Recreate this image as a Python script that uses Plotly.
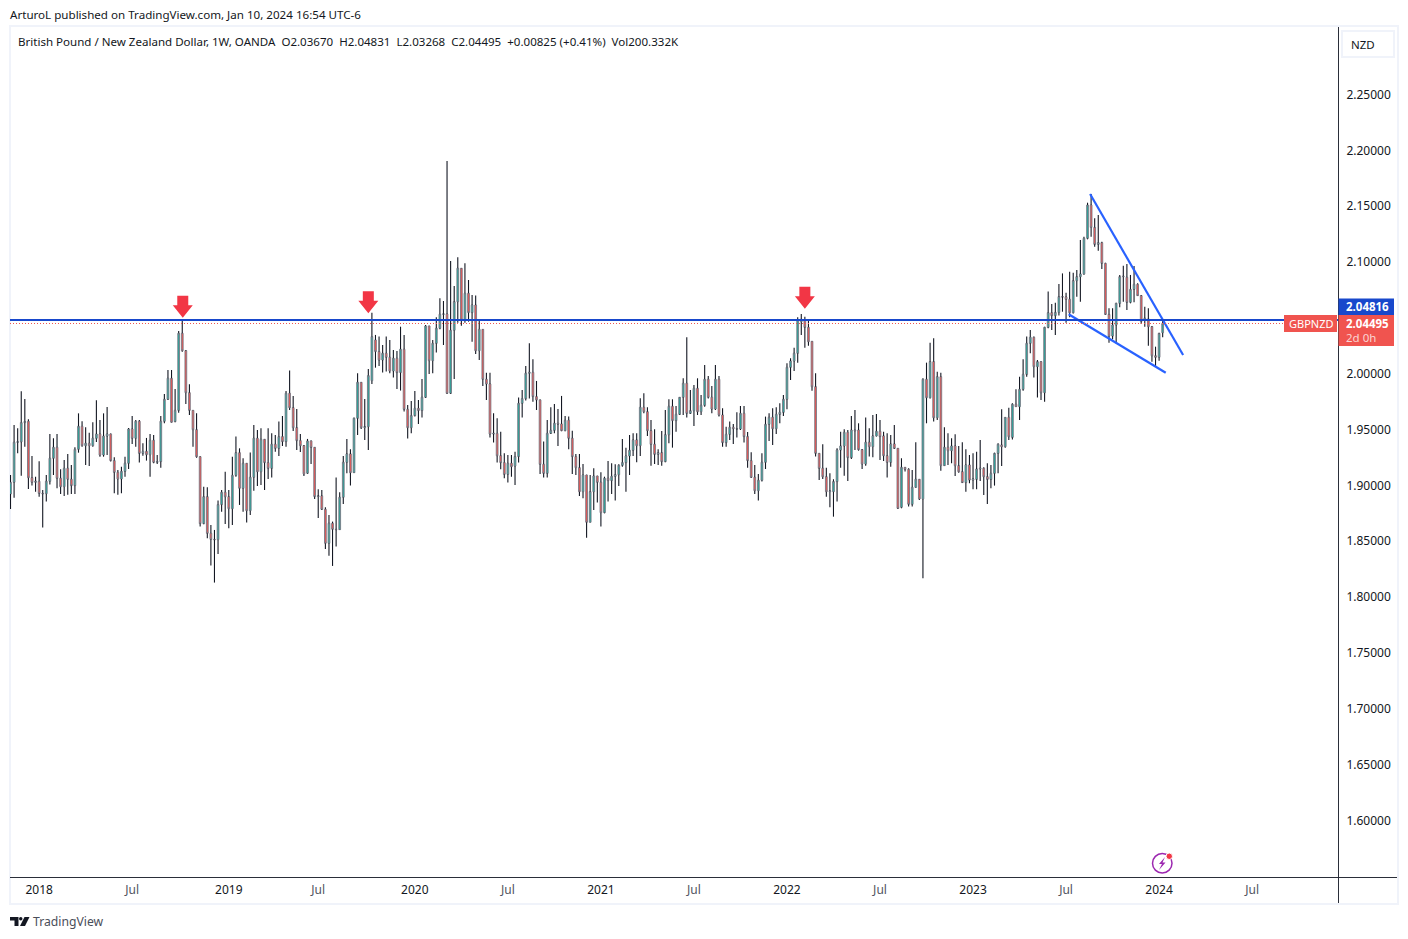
import pandas as pd
import plotly.graph_objects as go

# weekly GBPNZD candles
opens = [
    1.8923, 1.9028, 1.9386, 1.9390, 1.9562, 1.9574, 1.9069, 1.9028, 1.9037, 1.8929,
    1.8926, 1.9037, 1.9243, 1.9341, 1.9064, 1.8989, 1.9153, 1.9055, 1.8998, 1.9323,
    1.9529, 1.9356, 1.9377, 1.9356, 1.9422, 1.9460, 1.9272, 1.9442, 1.9460, 1.9222,
    1.9117, 1.9058, 1.9126, 1.9198, 1.9505, 1.9422, 1.9574, 1.9287, 1.9305, 1.9275,
    1.9404, 1.9207, 1.9213, 1.9574, 1.9771, 1.9959, 1.9571, 1.9672, 2.0362, 2.0206,
    1.9830, 1.9672, 1.9499, 1.9257, 1.8658, 1.8899, 1.8571, 1.8517, 1.8514, 1.8828,
    1.8938, 1.8899, 1.8792, 1.9090, 1.9293, 1.8974, 1.9198, 1.8774, 1.9073, 1.9422,
    1.9123, 1.9413, 1.9204, 1.9153, 1.9368, 1.9332, 1.9437, 1.9392, 1.9825, 1.9696,
    1.9517, 1.9401, 1.9356, 1.9109, 1.9398, 1.9341, 1.8900, 1.8906, 1.8786, 1.8482,
    1.8661, 1.8607, 1.8604, 1.8894, 1.9207, 1.9282, 1.9114, 1.9601, 1.9923, 1.9517,
    1.9526, 1.9938, 2.0302, 2.0198, 2.0123, 2.0183, 2.0147, 2.0025, 2.0138, 2.0010,
    2.0219, 1.9681, 1.9517, 1.9625, 1.9690, 1.9670, 1.9789, 2.0427, 2.0117, 2.0272,
    2.0407, 2.0532, 2.0535, 1.9825, 2.0389, 2.0645, 2.0944, 2.0481, 2.0720, 2.0547,
    2.0615, 2.0206, 2.0397, 1.9950, 1.9908, 1.9460, 1.9466, 1.9266, 1.9204, 1.9099,
    1.9198, 1.9174, 1.9258, 1.9735, 1.9777, 2.0004, 2.0012, 1.9795, 1.9765, 1.9189,
    1.9108, 1.9466, 1.9493, 1.9556, 1.9550, 1.9490, 1.9583, 1.9422, 1.9258, 1.9159,
    1.8944, 1.9093, 1.8670, 1.8944, 1.9084, 1.9028, 1.8756, 1.9064, 1.9043, 1.9081,
    1.9096, 1.9180, 1.9204, 1.9263, 1.9314, 1.9407, 1.9356, 1.9699, 1.9660, 1.9490,
    1.9368, 1.9278, 1.9293, 1.9213, 1.9454, 1.9708, 1.9580, 1.9636, 1.9789, 1.9914,
    1.9645, 1.9669, 1.9869, 1.9660, 1.9717, 1.9950, 1.9789, 1.9684, 1.9950, 1.9630,
    1.9383, 1.9457, 1.9520, 1.9508, 1.9505, 1.9645, 1.9437, 1.9222, 1.9073, 1.8953,
    1.9046, 1.9207, 1.9547, 1.9610, 1.9508, 1.9636, 1.9654, 1.9771, 2.0057, 2.0114,
    2.0183, 2.0466, 2.0475, 2.0415, 2.0290, 1.9884, 1.9287, 1.9153, 1.9078, 1.8944,
    1.8944, 1.9034, 1.9317, 1.9353, 1.9475, 1.9249, 1.9496, 1.9496, 1.9320, 1.9192,
    1.9386, 1.9347, 1.9443, 1.9484, 1.9443, 1.9266, 1.9207, 1.9371, 1.9332, 1.8804,
    1.9162, 1.9144, 1.8831, 1.8983, 1.9055, 1.8879, 1.9950, 1.9785, 2.0108, 1.9606,
    1.9973, 1.9177, 1.9341, 1.9311, 1.9353, 1.9177, 1.9123, 1.9025, 1.9183, 1.9048,
    1.9054, 1.9147, 1.9153, 1.9078, 1.9054, 1.9108, 1.9287, 1.9362, 1.9347, 1.9609,
    1.9430, 1.9726, 1.9705, 1.9860, 1.9994, 2.0272, 2.0326, 2.0063, 2.0108, 1.9830,
    2.0415, 2.0546, 2.0520, 2.0549, 2.0690, 2.0687, 2.0666, 2.0546, 2.0833, 2.0869,
    2.0893, 2.1212, 2.1510, 2.1310, 2.1158, 2.1173, 2.0988, 2.0531, 2.0337, 2.0436,
    2.0630, 2.0869, 2.0863, 2.0639, 2.0755, 2.0800, 2.0699, 2.0487, 2.0490, 2.0421,
    2.0161, 2.0147, 2.0367,
]
highs = [
    1.9093, 1.9541, 1.9511, 1.9842, 1.9774, 1.9592, 1.9263, 1.9078, 1.9216, 1.8959,
    1.9093, 1.9460, 1.9422, 1.9460, 1.9144, 1.9228, 1.9281, 1.9183, 1.9341, 1.9645,
    1.9574, 1.9520, 1.9472, 1.9565, 1.9762, 1.9586, 1.9645, 1.9702, 1.9465, 1.9252,
    1.9138, 1.9168, 1.9257, 1.9514, 1.9622, 1.9586, 1.9586, 1.9377, 1.9425, 1.9460,
    1.9451, 1.9272, 1.9622, 1.9818, 2.0033, 2.0033, 1.9863, 2.0382, 2.0481, 2.0212,
    1.9905, 1.9675, 1.9645, 1.9260, 1.8989, 1.8983, 1.8646, 1.8601, 1.8864, 1.8959,
    1.9123, 1.8959, 1.9257, 1.9437, 1.9332, 1.9243, 1.9200, 1.9294, 1.9541, 1.9496,
    1.9511, 1.9416, 1.9511, 1.9467, 1.9452, 1.9571, 1.9622, 1.9846, 2.0028, 1.9801,
    1.9684, 1.9461, 1.9362, 1.9416, 1.9401, 1.9344, 1.8965, 1.8959, 1.8804, 1.8736,
    1.8676, 1.9070, 1.8938, 1.9264, 1.9416, 1.9323, 1.9607, 2.0004, 1.9926, 1.9774,
    2.0043, 2.0545, 2.0347, 2.0332, 2.0257, 2.0332, 2.0302, 2.0213, 2.0204, 2.0421,
    2.0347, 1.9720, 1.9756, 1.9846, 1.9765, 1.9953, 2.0436, 2.0430, 2.0302, 2.0505,
    2.0675, 2.0651, 2.1905, 2.1009, 2.0786, 2.1042, 2.0947, 2.0988, 2.0839, 2.0705,
    2.0700, 2.0481, 2.0400, 2.0009, 2.0009, 1.9645, 1.9601, 1.9481, 1.9287, 1.9272,
    1.9272, 1.9302, 1.9786, 1.9854, 2.0069, 2.0272, 2.0129, 1.9935, 1.9768, 1.9392,
    1.9586, 1.9699, 1.9729, 1.9684, 1.9801, 1.9622, 1.9616, 1.9490, 1.9281, 1.9281,
    1.9192, 1.9096, 1.9093, 1.9153, 1.9087, 1.9117, 1.9078, 1.9219, 1.9198, 1.9189,
    1.9189, 1.9416, 1.9338, 1.9451, 1.9466, 1.9466, 1.9780, 1.9824, 1.9699, 1.9586,
    1.9502, 1.9323, 1.9487, 1.9675, 1.9771, 1.9771, 1.9711, 1.9792, 1.9959, 2.0326,
    1.9854, 1.9899, 1.9959, 1.9810, 2.0078, 1.9980, 1.9890, 2.0078, 1.9980, 1.9690,
    1.9526, 1.9571, 1.9550, 1.9654, 1.9711, 1.9711, 1.9478, 1.9296, 1.9183, 1.9102,
    1.9287, 1.9616, 1.9645, 1.9690, 1.9699, 1.9735, 1.9810, 2.0093, 2.0138, 2.0233,
    2.0505, 2.0535, 2.0511, 2.0487, 2.0293, 2.0004, 1.9290, 1.9368, 1.9159, 1.9108,
    1.9055, 1.9332, 1.9481, 1.9502, 1.9496, 1.9622, 1.9675, 1.9556, 1.9326, 1.9607,
    1.9511, 1.9630, 1.9639, 1.9586, 1.9481, 1.9466, 1.9451, 1.9541, 1.9335, 1.9243,
    1.9165, 1.9153, 1.9138, 1.9386, 1.9058, 1.9959, 2.0099, 2.0278, 2.0317, 2.0018,
    2.0009, 1.9520, 1.9466, 1.9421, 1.9457, 1.9353, 1.9386, 1.9323, 1.9272, 1.9287,
    1.9302, 1.9406, 1.9162, 1.9198, 1.9183, 1.9293, 1.9377, 1.9681, 1.9612, 1.9696,
    1.9735, 1.9860, 1.9973, 2.0129, 2.0332, 2.0391, 2.0332, 2.0123, 2.0111, 2.0421,
    2.0737, 2.0624, 2.0636, 2.0803, 2.0898, 2.0725, 2.0913, 2.0904, 2.0928, 2.1197,
    2.1227, 2.1531, 2.1609, 2.1391, 2.1421, 2.1182, 2.0994, 2.0585, 2.0585, 2.0636,
    2.0884, 2.0967, 2.0982, 2.0884, 2.0964, 2.0809, 2.0705, 2.0600, 2.0585, 2.0427,
    2.0242, 2.0367, 2.04831,
]
lows = [
    1.8789, 1.8890, 1.9287, 1.9087, 1.9347, 1.8968, 1.8998, 1.8944, 1.8899, 1.8622,
    1.8855, 1.9007, 1.9093, 1.8974, 1.8923, 1.8905, 1.8917, 1.8923, 1.8923, 1.9293,
    1.9347, 1.9183, 1.9174, 1.9347, 1.9389, 1.9257, 1.9257, 1.9272, 1.9213, 1.8929,
    1.8917, 1.8929, 1.9078, 1.9147, 1.9371, 1.9347, 1.9204, 1.9266, 1.9222, 1.9078,
    1.9198, 1.9192, 1.9159, 1.9556, 1.9765, 1.9562, 1.9565, 1.9651, 2.0197, 1.9729,
    1.9630, 1.9347, 1.9248, 1.8631, 1.8652, 1.8526, 1.8282, 1.8130, 1.8386, 1.8765,
    1.8655, 1.8616, 1.8646, 1.9078, 1.8825, 1.8765, 1.8667, 1.8736, 1.8953, 1.8995,
    1.9004, 1.8959, 1.9058, 1.9070, 1.9302, 1.9264, 1.9353, 1.9347, 1.9675, 1.9487,
    1.9317, 1.9299, 1.9085, 1.9103, 1.9192, 1.8879, 1.8709, 1.8780, 1.8431, 1.8371,
    1.8279, 1.8452, 1.8601, 1.8834, 1.9109, 1.8998, 1.9111, 1.9452, 1.9505, 1.9407,
    1.9317, 1.9908, 2.0054, 2.0069, 2.0010, 2.0019, 2.0004, 1.9965, 1.9863, 1.9849,
    1.9661, 1.9419, 1.9467, 1.9616, 1.9550, 1.9607, 1.9783, 1.9998, 2.0004, 2.0189,
    2.0398, 2.0257, 1.9819, 1.9819, 1.9953, 2.0457, 2.0430, 2.0457, 2.0466, 2.0287,
    2.0177, 2.0123, 1.9890, 1.9765, 1.9428, 1.9383, 1.9204, 1.9144, 1.9064, 1.9025,
    1.9078, 1.9004, 1.9204, 1.9607, 1.9759, 1.9777, 1.9750, 1.9675, 1.9102, 1.9070,
    1.9070, 1.9460, 1.9466, 1.9353, 1.9485, 1.9484, 1.9323, 1.9102, 1.9093, 1.8905,
    1.8885, 1.8532, 1.8667, 1.8780, 1.8846, 1.8631, 1.8750, 1.8855, 1.8923, 1.8864,
    1.8995, 1.9168, 1.8944, 1.9093, 1.9263, 1.9207, 1.9263, 1.9645, 1.9443, 1.9177,
    1.9192, 1.9183, 1.9177, 1.9207, 1.9377, 1.9338, 1.9481, 1.9630, 1.9630, 1.9607,
    1.9640, 1.9532, 1.9630, 1.9630, 1.9705, 1.9777, 1.9645, 1.9675, 1.9616, 1.9347,
    1.9347, 1.9407, 1.9371, 1.9428, 1.9496, 1.9383, 1.9159, 1.9067, 1.8923, 1.8864,
    1.9034, 1.9147, 1.9398, 1.9362, 1.9460, 1.9556, 1.9622, 1.9681, 1.9944, 2.0024,
    2.0099, 2.0347, 2.0233, 2.0251, 1.9848, 1.9258, 1.9049, 1.9058, 1.8899, 1.8804,
    1.8720, 1.8855, 1.9159, 1.9087, 1.9040, 1.9237, 1.9317, 1.9311, 1.9147, 1.9177,
    1.9258, 1.9252, 1.9437, 1.9228, 1.9219, 1.9070, 1.9168, 1.9326, 1.8789, 1.8795,
    1.9125, 1.8810, 1.8810, 1.8980, 1.8870, 1.8168, 1.9556, 1.9779, 1.9571, 1.9585,
    1.9132, 1.9174, 1.9183, 1.9198, 1.9084, 1.9114, 1.9022, 1.8944, 1.9019, 1.8965,
    1.8965, 1.9039, 1.8914, 1.8834, 1.8974, 1.8998, 1.9108, 1.9174, 1.9338, 1.9406,
    1.9412, 1.9702, 1.9586, 1.9848, 1.9973, 2.0182, 1.9967, 1.9788, 1.9765, 1.9750,
    2.0406, 2.0391, 2.0346, 2.0520, 2.0555, 2.0457, 2.0505, 2.0540, 2.0690, 2.0645,
    2.0885, 2.1203, 2.1227, 2.1137, 2.1101, 2.0937, 2.0525, 2.0278, 2.0308, 2.0272,
    2.0594, 2.0645, 2.0570, 2.0630, 2.0639, 2.0696, 2.0445, 2.0421, 2.0251, 2.0108,
    2.0063, 2.0117, 2.03268,
]
closes = [
    1.9028, 1.9386, 1.9390, 1.9562, 1.9571, 1.9069, 1.9028, 1.9037, 1.8929, 1.8926,
    1.9037, 1.9243, 1.9341, 1.9064, 1.8989, 1.9153, 1.9055, 1.8998, 1.9323, 1.9529,
    1.9356, 1.9377, 1.9356, 1.9422, 1.9460, 1.9272, 1.9442, 1.9460, 1.9222, 1.9117,
    1.9058, 1.9126, 1.9198, 1.9505, 1.9422, 1.9574, 1.9287, 1.9305, 1.9275, 1.9404,
    1.9207, 1.9213, 1.9574, 1.9771, 1.9959, 1.9565, 1.9672, 2.0362, 2.0206, 1.9830,
    1.9672, 1.9499, 1.9257, 1.8658, 1.8899, 1.8571, 1.8517, 1.8514, 1.8828, 1.8938,
    1.8899, 1.8792, 1.9090, 1.9293, 1.8974, 1.9198, 1.8774, 1.9073, 1.9422, 1.9123,
    1.9413, 1.9204, 1.9153, 1.9368, 1.9332, 1.9437, 1.9392, 1.9825, 1.9696, 1.9517,
    1.9401, 1.9356, 1.9103, 1.9398, 1.9341, 1.8900, 1.8906, 1.8786, 1.8482, 1.8661,
    1.8607, 1.8604, 1.8894, 1.9207, 1.9282, 1.9114, 1.9601, 1.9923, 1.9517, 1.9526,
    1.9983, 2.0332, 2.0198, 2.0123, 2.0183, 2.0147, 2.0025, 2.0138, 2.0010, 2.0219,
    1.9681, 1.9517, 1.9625, 1.9690, 1.9670, 1.9789, 2.0427, 2.0117, 2.0272, 2.0407,
    2.0532, 2.0535, 1.9825, 2.0389, 2.0645, 2.0944, 2.0481, 2.0720, 2.0547, 2.0615,
    2.0206, 2.0397, 1.9950, 1.9908, 1.9460, 1.9466, 1.9266, 1.9204, 1.9099, 1.9198,
    1.9168, 1.9258, 1.9735, 1.9777, 2.0004, 2.0012, 1.9795, 1.9765, 1.9189, 1.9108,
    1.9466, 1.9493, 1.9556, 1.9550, 1.9490, 1.9583, 1.9422, 1.9258, 1.9159, 1.8944,
    1.9093, 1.8670, 1.8944, 1.9084, 1.9028, 1.8756, 1.9064, 1.9043, 1.9081, 1.9096,
    1.9180, 1.9204, 1.9263, 1.9314, 1.9407, 1.9356, 1.9699, 1.9660, 1.9490, 1.9368,
    1.9278, 1.9293, 1.9213, 1.9454, 1.9708, 1.9580, 1.9636, 1.9789, 1.9914, 1.9645,
    1.9669, 1.9869, 1.9660, 1.9717, 1.9950, 1.9789, 1.9684, 1.9950, 1.9630, 1.9383,
    1.9457, 1.9520, 1.9508, 1.9505, 1.9645, 1.9437, 1.9222, 1.9073, 1.8953, 1.9046,
    1.9207, 1.9547, 1.9610, 1.9508, 1.9636, 1.9654, 1.9771, 2.0057, 2.0114, 2.0183,
    2.0481, 2.0487, 2.0415, 2.0287, 1.9884, 1.9287, 1.9153, 1.9078, 1.8944, 1.8950,
    1.9034, 1.9317, 1.9353, 1.9475, 1.9249, 1.9496, 1.9490, 1.9320, 1.9192, 1.9386,
    1.9347, 1.9443, 1.9484, 1.9437, 1.9266, 1.9207, 1.9371, 1.9332, 1.8795, 1.9162,
    1.9144, 1.8831, 1.8983, 1.9055, 1.8879, 1.9950, 1.9785, 2.0108, 1.9606, 1.9973,
    1.9177, 1.9341, 1.9311, 1.9353, 1.9177, 1.9123, 1.9025, 1.9183, 1.9048, 1.9057,
    1.9147, 1.9153, 1.9078, 1.9054, 1.9108, 1.9287, 1.9368, 1.9347, 1.9609, 1.9436,
    1.9726, 1.9705, 1.9860, 1.9994, 2.0272, 2.0326, 2.0063, 2.0108, 1.9830, 2.0415,
    2.0546, 2.0520, 2.0549, 2.0690, 2.0687, 2.0666, 2.0546, 2.0833, 2.0869, 2.0893,
    2.1212, 2.1510, 2.1310, 2.1158, 2.1173, 2.0988, 2.0531, 2.0337, 2.0436, 2.0630,
    2.0869, 2.0872, 2.0639, 2.0755, 2.0800, 2.0699, 2.0469, 2.0496, 2.0421, 2.0161,
    2.0147, 2.0361, 2.04495,
]

weeks = pd.date_range(end="2024-01-08", periods=len(closes), freq="7D")

# 2.05 has no label in the reference, the price boxes sit on it
y_ticks = [1.60, 1.65, 1.70, 1.75, 1.80, 1.85, 1.90, 1.95, 2.00, 2.10, 2.15, 2.20, 2.25]
x_tick_dates = ["2018-01-01", "2018-07-02", "2019-01-07", "2019-07-01", "2020-01-06", "2020-07-06",
                "2021-01-04", "2021-07-05", "2022-01-03", "2022-07-04", "2023-01-02", "2023-07-03",
                "2024-01-01", "2024-07-01"]
x_tick_labels = ["2018", "Jul", "2019", "Jul", "2020", "Jul", "2021", "Jul", "2022", "Jul", "2023", "Jul", "2024", "Jul"]

resistance = 2.04816
last_close = 2.04495
arrow_dates = ["2018-10-09", "2019-10-07", "2022-02-07"]
arrow_prices = [2.0500, 2.0541, 2.0582]
wedge_top_dates = ["2023-08-19", "2024-02-17"]
wedge_top_prices = [2.1609, 2.0168]
wedge_bottom_dates = ["2023-07-08", "2024-01-14"]
wedge_bottom_prices = [2.0532, 2.0009]

FONT = "Noto Sans"
INK = "#131722"
TEAL = "#26a69a"
RED = "#ef5350"
BORDER = "#787b86"
FRAME = "#f0f3fa"
BLUE_BOX = "#1848cc"

# page geometry: browser leaves an 8px body margin around the figure
OFFSET = 8
FIG_W, FIG_H = 1392, 923
PL, PR, PT, PB = 10, 1338, 27, 877


def fx(x):
    return (x - PL) / (PR - PL)


def fy(y):
    return (PB - y) / (PB - PT)


def paper_path(points, close=True):
    s = "M " + " L ".join(f"{fx(x):.5f},{fy(y):.5f}" for x, y in points)
    return s + (" Z" if close else "")


def box(x0, y0, x1, y1, fill, line=None, width=0):
    return dict(type="rect", xref="paper", yref="paper", x0=fx(x0), x1=fx(x1), y0=fy(y0), y1=fy(y1),
                fillcolor=fill, line=dict(color=line or fill, width=width), layer="above")


def label(x, y, text, size=12, color=INK, anchor="left"):
    return dict(xref="paper", yref="paper", x=fx(x), y=fy(y), text=text, showarrow=False,
                xanchor=anchor, yanchor="middle", align="left",
                font=dict(family=FONT, size=size, color=color),
                borderpad=0, borderwidth=0)


fig = go.Figure()

fig.add_trace(go.Candlestick(
    x=weeks, open=opens, close=closes,
    high=[max(o, c) for o, c in zip(opens, closes)],
    low=[min(o, c) for o, c in zip(opens, closes)],
    increasing=dict(line=dict(color=BORDER, width=0.9), fillcolor=TEAL),
    decreasing=dict(line=dict(color=BORDER, width=0.9), fillcolor=RED),
    hoverinfo="skip", showlegend=False,
))

# scatter layer sits over the candles, so the wicks stop at the body edges
wick_x, wick_y = [], []
for d, o, h, l, c in zip(weeks, opens, highs, lows, closes):
    wick_x += [d, d, None, d, d, None]
    wick_y += [h, max(o, c), None, min(o, c), l, None]
fig.add_trace(go.Scatter(x=wick_x, y=wick_y, mode="lines", line=dict(color=INK, width=1.1),
                         hoverinfo="skip", showlegend=False))

# falling wedge
for xs, ys in [(wedge_top_dates, wedge_top_prices), (wedge_bottom_dates, wedge_bottom_prices)]:
    fig.add_trace(go.Scatter(x=xs, y=ys, mode="lines", line=dict(color="#2962ff", width=2.2),
                             hoverinfo="skip", showlegend=False))

shapes = [
    # horizontal levels
    dict(type="line", xref="paper", yref="y", x0=0, x1=1, y0=resistance, y1=resistance,
         line=dict(color=BLUE_BOX, width=2), layer="above"),
    dict(type="line", xref="paper", yref="y", x0=0, x1=1, y0=last_close, y1=last_close,
         line=dict(color="#f0544f", width=1, dash="1px,2px"), layer="above"),
    # chart frame and axis lines
    dict(type="rect", xref="paper", yref="paper", x0=fx(10), x1=fx(1398), y0=fy(904), y1=fy(26),
         line=dict(color=FRAME, width=2), layer="below"),
    dict(type="line", xref="paper", yref="paper", x0=fx(1338.5), x1=fx(1338.5), y0=fy(27), y1=fy(903),
         line=dict(color="#2a2e39", width=1), layer="above"),
    dict(type="line", xref="paper", yref="paper", x0=fx(10), x1=fx(1397), y0=fy(877.5), y1=fy(877.5),
         line=dict(color="#2a2e39", width=1), layer="above"),
    # currency button
    dict(type="rect", xref="paper", yref="paper", x0=fx(1342), x1=fx(1394), y0=fy(57), y1=fy(31),
         fillcolor="white", line=dict(color=FRAME, width=2), layer="above"),
    # price boxes
    box(1338.5, 298.5, 1394, 315, BLUE_BOX),
    box(1338.5, 315, 1394, 346, "#f0544f"),
    box(1284, 315, 1337, 332, "#f0544f"),
    # lightning badge
    dict(type="circle", xref="paper", yref="paper", x0=fx(1152.5), x1=fx(1172), y0=fy(873), y1=fy(853.5),
         line=dict(color="#9c27b0", width=1.5), fillcolor="white", layer="above"),
    dict(type="path", xref="paper", yref="paper", layer="above", fillcolor="#9c27b0", line=dict(width=0),
         path=paper_path([(1165, 857), (1159, 864), (1162, 864), (1159, 870), (1165.5, 862.5), (1162.5, 862.5)])),
    dict(type="circle", xref="paper", yref="paper", x0=fx(1166), x1=fx(1172.5), y0=fy(859.5), y1=fy(853),
         line=dict(color="white", width=1), fillcolor="#f23645", layer="above"),
    # logo
    dict(type="path", xref="paper", yref="paper", layer="above", fillcolor=INK, line=dict(width=0),
         path=paper_path([(10, 917), (18.5, 917), (18.5, 926), (14.5, 926), (14.5, 920.5), (10, 920.5)])),
    dict(type="circle", xref="paper", yref="paper", x0=fx(19), x1=fx(22.5), y0=fy(920.5), y1=fy(917),
         fillcolor=INK, line=dict(width=0), layer="above"),
    dict(type="path", xref="paper", yref="paper", layer="above", fillcolor=INK, line=dict(width=0),
         path=paper_path([(24.5, 917), (29.5, 917), (25, 926), (20, 926)])),
]

# red block arrows, anchored on the peak and sized in pixels
for d, p in zip(arrow_dates, arrow_prices):
    shapes.append(dict(
        type="path", xref="x", yref="y", xsizemode="pixel", ysizemode="pixel",
        xanchor=d, yanchor=p, layer="above", fillcolor="#f23645", line=dict(width=0),
        path="M 0,0 L 10,12.5 L 5.5,12.5 L 5.5,22 L -5.5,22 L -5.5,12.5 L -10,12.5 Z",
    ))

annotations = [
    label(10, 15, "ArturoL published on TradingView.com, Jan 10, 2024 16:54 UTC-6", size=11.6),
    label(18, 41.5, "British Pound / New Zealand Dollar, 1W, OANDA&nbsp;&nbsp;O2.03670&nbsp;&nbsp;H2.04831&nbsp;&nbsp;"
                    "L2.03268&nbsp;&nbsp;C2.04495&nbsp;&nbsp;+0.00825 (+0.41%)&nbsp;&nbsp;Vol200.332K", size=11.55),
    label(1351, 44, "NZD", size=11.5),
    label(1346, 306.5, "<b>2.04816</b>", color="white", size=11.5),
    label(1346, 324, "<b>2.04495</b>", color="white", size=11.5),
    label(1346, 338, "2d 0h", color="#fbd5d3", size=11.5),
    label(1289, 323.5, "GBPNZD", color="white", size=11),
    label(33, 921.5, "TradingView", size=12.2, color="#4a4e59"),
]

fig.update_layout(
    width=FIG_W,
    height=FIG_H,
    margin=dict(l=PL - OFFSET, r=FIG_W + OFFSET - PR, t=PT - OFFSET, b=FIG_H + OFFSET - PB, autoexpand=False),
    paper_bgcolor="white",
    plot_bgcolor="white",
    showlegend=False,
    shapes=shapes,
    annotations=annotations,
    font=dict(family=FONT, size=12, color=INK),
    xaxis=dict(
        type="date",
        range=["2017-11-05", "2024-12-16"],
        rangeslider=dict(visible=False),
        showgrid=False,
        zeroline=False,
        tickmode="array",
        tickvals=x_tick_dates,
        ticktext=[t if t != "Jul" else f'<span style="color:#50535e">{t}</span>' for t in x_tick_labels],
        ticks="outside",
        ticklen=2,
        tickcolor="rgba(0,0,0,0)",
        tickfont=dict(family=FONT, size=12, color=INK),
    ),
    yaxis=dict(
        side="right",
        range=[1.5494, 2.3104],
        showgrid=False,
        zeroline=False,
        tickmode="array",
        tickvals=y_ticks,
        tickformat=".5f",
        ticks="outside",
        ticklen=5,
        tickcolor="rgba(0,0,0,0)",
        tickfont=dict(family=FONT, size=12, color=INK),
    ),
)

fig.write_html("out.html")
